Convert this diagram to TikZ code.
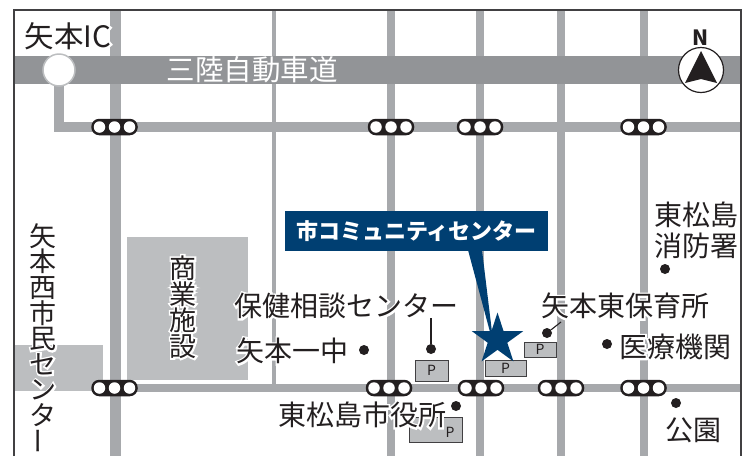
\documentclass[tikz,border=0pt]{standalone}
\usepackage{fontspec}
\setmainfont{Noto Sans CJK JP}
\newfontfamily\halofont[FakeBold=13]{Noto Sans CJK JP}
\usetikzlibrary{calc,shapes.geometric}
\definecolor{roadc}{HTML}{A7A9AC}
\definecolor{expc}{HTML}{929497}
\definecolor{bldc}{HTML}{BCBEC0}
\definecolor{navyc}{HTML}{003F72}
\definecolor{inkc}{HTML}{231F20}
\definecolor{framec}{HTML}{414042}
\newcommand{\lbl}[1]{\rlap{\halofont\color{white}#1}#1}
\newcommand{\vc}[1]{\hbox to 28pt{\hss#1\hss}}
\newenvironment{vstack}[1]{\vbox\bgroup\baselineskip=#1pt\lineskiplimit=-100pt\relax}{\egroup}
\tikzset{
 road/.style={draw=roadc,line width=#1},
 labelt/.style={inner sep=0pt,outer sep=0pt,text=inkc,font=\fontsize{28}{28}\selectfont},
 vlabelt/.style={inner sep=0pt,outer sep=0pt,text=inkc,font=\fontsize{27}{27}\selectfont},
 dotn/.style={circle,fill=inkc,minimum size=10pt,inner sep=0pt},
 parkbox/.style={draw=framec,fill=bldc,line width=1pt,inner sep=0pt,
   font=\fontsize{14}{14}\selectfont,text=inkc},
 signalbody/.style={draw=none,fill=inkc,rounded corners=8pt,minimum width=46.5pt,minimum height=16.5pt,inner sep=0pt},
 lamp/.style={circle,fill=white,minimum size=11.5pt,inner sep=0pt},
 leader/.style={draw=inkc,line width=1.1pt},
}
\newcommand{\signal}[3]{%
 \node[signalbody] (#1) at (#2,#3) {};
 \node[lamp] (#1a) at ($(#1)+(-15,0)$) {};
 \node[lamp] (#1b) at (#1) {};
 \node[lamp] (#1c) at ($(#1)+(15,0)$) {};
}
\begin{document}
\begin{tikzpicture}[x=1pt,y=-1pt]
\useasboundingbox (0,0) rectangle (744,456);
\fill[white] (0,0) rectangle (744,456);
% buildings
\fill[bldc] (14,345) rectangle (103,391);
\fill[bldc] (127,237) rectangle (248,380);
% vertical roads
\draw[road=11pt] (115,10) -- (115,456);
\draw[road=4pt] (273.5,10) -- (273.5,388);
\draw[road=8pt] (391,10) -- (391,456);
\draw[road=8pt] (480,10) -- (480,456);
\draw[road=8pt] (561,10) -- (561,456);
\draw[road=8pt] (643.5,10) -- (643.5,456);
% horizontal roads
\draw[road=10pt] (741,127) -- (59,127) -- (59,70);
\draw[road=8.5pt] (115,388) -- (741,388);
% expressway
\fill[expc] (14,56) rectangle (741,84);
\node[circle,draw=bldc,fill=white,line width=1.5pt,minimum size=32pt,inner sep=0pt] (ic) at (59,70) {};
\node[inner sep=0pt,text=white,font=\fontsize{28.5}{28}\selectfont] (exp) at (252,70) {三陸自動車道};
% frame
\draw[framec,line width=1.3pt] (14,456) -- (14,10) -- (741,10) -- (741,456);
% signals
\signal{sa}{114.5}{127}
\signal{sb}{391}{127}
\signal{sc}{480}{127}
\signal{sd}{643.5}{127}
\signal{se}{114.5}{388}
\signal{sf}{389}{388}
\signal{sg}{481}{388}
\signal{sh}{561}{388}
\signal{si}{643.5}{388}
% compass
\node[circle,draw=inkc,fill=white,line width=1.2pt,minimum size=45pt,inner sep=0pt] (comp) at (701,70) {};
\fill[inkc] (701,51) -- (717,83) -- (701,79) -- (685,83) -- cycle;
\node[inner sep=0pt,text=inkc,font=\fontsize{21}{21}\selectfont\bfseries] (north) at (701,38) {N};
% parking
\node[parkbox,minimum width=33pt,minimum height=21pt] (pa) at (431.5,370.5) {P};
\node[parkbox,minimum width=41pt,minimum height=16pt] (pb) at (505.5,368) {P};
\node[parkbox,minimum width=32pt,minimum height=15pt] (pc) at (540,349.5) {P};
\draw[draw=framec,fill=bldc,line width=1pt] (409,417) rectangle (462,442);
\node[inner sep=0pt,text=inkc,font=\fontsize{14}{14}\selectfont] (pd) at (450,432) {P};
% callout
\fill[navyc] (468,250) -- (482,250) -- (492,332) -- (490,332) -- cycle;
\node[fill=navyc,minimum width=263pt,minimum height=40pt,inner sep=0pt,text=white,
  font=\fontsize{22}{22}\selectfont\bfseries] (title) at (416.5,231) {市コミュニティセンター};
\node[star,star points=5,star point ratio=2.618,fill=navyc,minimum size=54pt,inner sep=0pt] (starn) at (497.5,339.5) {};
% dots
\node[dotn] (d1) at (431,349) {};
\coordinate (d1e) at (431,318);
\draw[leader] (d1) -- (d1e);
\node[dotn] (d2) at (547,333) {};
\coordinate (d2e) at (561,322);
\draw[leader] (d2) -- (d2e);
\node[dotn] (d3) at (364,350) {};
\node[dotn] (d4) at (607,344) {};
\node[dotn] (d5) at (665,269) {};
\node[dotn] (d6) at (676,403) {};
\node[dotn] (d7) at (456,406) {};
% labels
\node[labelt,font=\fontsize{29.5}{28}\selectfont] (t1) at (68,36) {\lbl{矢本IC}};
\node[labelt] (t2) at (346.5,306) {\lbl{保健相談センター}};
\node[labelt] (t3) at (292.5,351) {\lbl{矢本一中}};
\node[labelt] (t4) at (362,415) {\lbl{東松島市役所}};
\node[labelt] (t5) at (696,215) {\lbl{東松島}};
\node[labelt] (t6) at (696,246) {\lbl{消防署}};
\node[labelt] (t7) at (625,306) {\lbl{矢本東保育所}};
\node[labelt] (t8) at (675,347) {\lbl{医療機関}};
\node[labelt] (t9) at (693,430) {\lbl{公園}};
% vertical labels
\node[vlabelt] (wv) at (43,339) {\begin{vstack}{25.6}\vc{\lbl{矢}}\vc{\lbl{本}}\vc{\lbl{西}}\vc{\lbl{市}}\vc{\lbl{民}}\vc{\lbl{セ}}\vc{\lbl{ン}}\vc{\lbl{タ}}\vc{\raisebox{-0.12em}{\rotatebox{90}{\lbl{ー}}}}\end{vstack}};
\node[vlabelt] (bv) at (183,307) {\begin{vstack}{26}\vc{\lbl{商}}\vc{\lbl{業}}\vc{\lbl{施}}\vc{\lbl{設}}\end{vstack}};
\end{tikzpicture}
\end{document}
